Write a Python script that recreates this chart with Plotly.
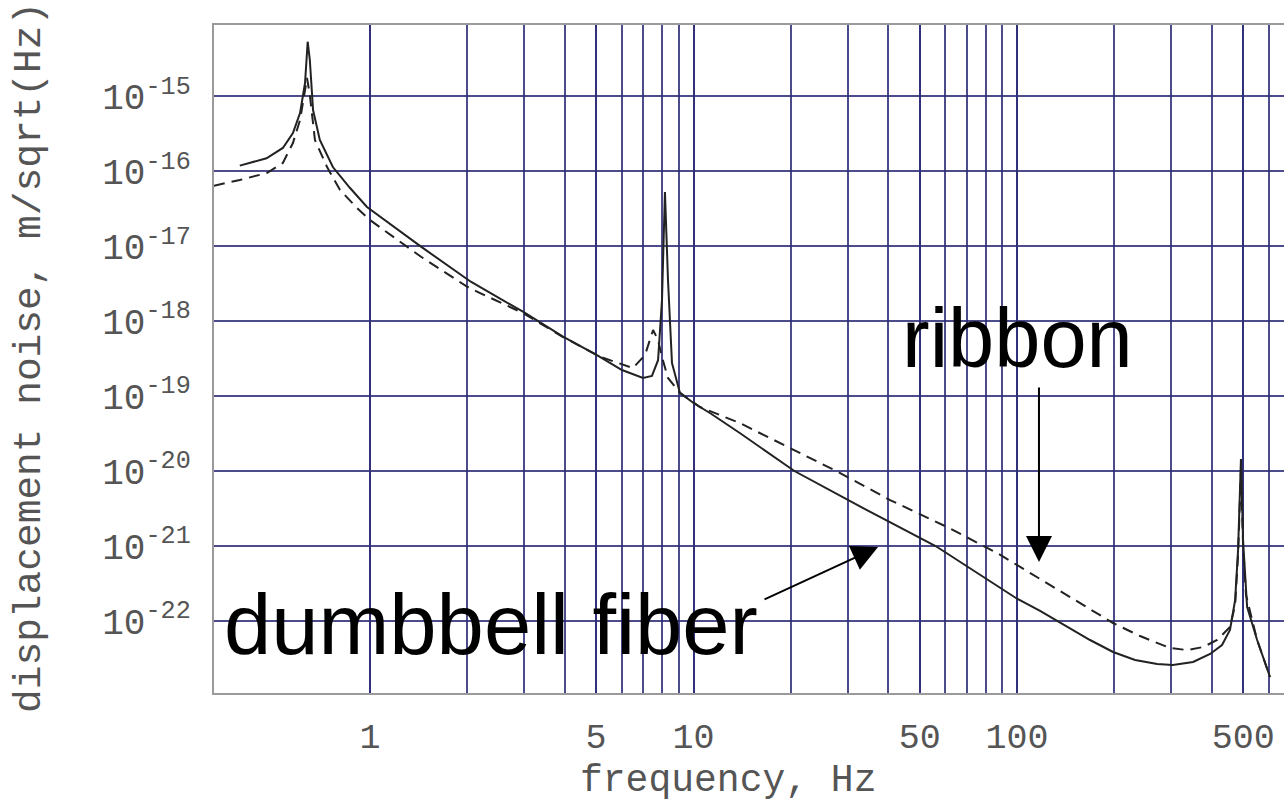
import plotly.graph_objects as go

# ---- data ----
freq_dumbbell = [0.396, 0.479, 0.538, 0.578, 0.608, 0.630, 0.642, 0.652, 0.667, 0.70,
                 0.768, 0.868, 0.979, 1.438, 2.05, 2.97, 3.95, 5.03, 6.01, 6.98,
                 7.44, 7.77, 7.99, 8.16, 8.34, 8.58, 9.08, 10.0, 11.3, 13.9,
                 20.5, 33.9, 56.0, 85.0, 100, 117.8, 138.8, 168.1, 198, 231.6,
                 271, 303, 350, 395, 430, 455, 472, 482, 492, 499.4,
                 514, 552, 605]
noise_dumbbell = [1.18e-16, 1.48e-16, 2.03e-16, 3.21e-16, 5.93e-16, 1.49e-15, 5.3e-15, 3.0e-15, 6.5e-16, 2.59e-16,
                  1.13e-16, 5.93e-17, 3.31e-17, 9.8e-18, 3.34e-18, 1.33e-18, 6.18e-19, 3.52e-19, 2.22e-19, 1.74e-19,
                  1.85e-19, 3.0e-19, 1.9e-18, 5.25e-17, 3.52e-18, 2.75e-19, 1.1e-19, 8.07e-20, 5.85e-20, 3.21e-20,
                  1.0e-20, 3.1e-21, 1.0e-21, 3.1e-22, 1.98e-22, 1.36e-22, 9.12e-23, 5.58e-23, 3.86e-23, 3.02e-23,
                  2.67e-23, 2.59e-23, 2.84e-23, 3.63e-23, 4.79e-23, 7.6e-23, 1.9e-22, 8.85e-22, 1.45e-20, 1.2e-21,
                  1.54e-22, 5.58e-23, 1.79e-23]

freq_ribbon = [0.3295, 0.396, 0.48, 0.538, 0.578, 0.608, 0.630, 0.639, 0.652, 0.676,
               0.737, 0.808, 0.912, 1.0, 1.438, 1.995, 2.19, 2.97, 3.95, 5.14,
               6.5, 7.08, 7.5, 7.77, 7.99, 8.34, 9.08, 10.47, 13.9, 19.9,
               28.4, 40.5, 60.8, 86.7, 126.5, 198, 240, 297, 335.3, 376,
               415.3, 455, 472, 482, 492, 499.4, 510, 552, 605]
noise_ribbon = [6.37e-17, 7.59e-17, 9.4e-17, 1.28e-16, 2.36e-16, 4.79e-16, 1.2e-15, 1.74e-15, 1.03e-15, 2.59e-16,
                1.13e-16, 5.58e-17, 3.21e-17, 2.22e-17, 7.2e-18, 2.87e-18, 2.36e-18, 1.28e-18, 6.12e-19, 3.34e-19,
                2.36e-19, 3.52e-19, 7.59e-19, 5.58e-19, 3.31e-19, 1.74e-19, 1.1e-19, 7.13e-20, 4.36e-20, 2.03e-20,
                9.4e-21, 4.1e-21, 1.79e-21, 8.07e-22, 3.02e-22, 9.4e-23, 6.3e-23, 4.36e-23, 4.1e-23, 4.5e-23,
                5.58e-23, 8.3e-23, 1.63e-22, 7.59e-22, 1.03e-20, 1.03e-21, 2.22e-22, 5.58e-23, 1.79e-23]

x_ticks = [1, 5, 10, 50, 100, 500]
x_labels = ["1", "5", "10", "50", "100", "500"]
x_grid = [1, 2, 3, 4, 5, 6, 7, 8, 9, 10, 20, 30, 40, 50, 60, 70, 80, 90, 100, 200, 300, 400, 500, 600, 700]
y_ticks = [1e-15, 1e-16, 1e-17, 1e-18, 1e-19, 1e-20, 1e-21, 1e-22]
y_labels = ["10<sup>-15</sup>", "10<sup>-16</sup>", "10<sup>-17</sup>", "10<sup>-18</sup>",
            "10<sup>-19</sup>", "10<sup>-20</sup>", "10<sup>-21</sup>", "10<sup>-22</sup>"]

MONO = "Liberation Mono, Courier New, monospace"
SANS = "Liberation Sans, Arial, sans-serif"
GRID = "rgba(45,45,120,0.85)"

fig = go.Figure()
fig.add_trace(go.Scatter(x=freq_ribbon, y=noise_ribbon, mode="lines",
                         line=dict(color="#222222", width=2, dash="11px,7px"),
                         name="ribbon", showlegend=False))
fig.add_trace(go.Scatter(x=freq_dumbbell, y=noise_dumbbell, mode="lines",
                         line=dict(color="#222222", width=2),
                         name="dumbbell fiber", showlegend=False))

fig.update_layout(
    width=1284, height=801,
    margin=dict(l=214, r=0, t=25, b=108),
    paper_bgcolor="white", plot_bgcolor="white",
    showlegend=False,
    xaxis=dict(type="log", range=[-0.482, 2.825],
               tickmode="array", tickvals=x_ticks, ticktext=x_labels,
               showgrid=True, gridcolor=GRID, gridwidth=1.5,
               minor=dict(tickmode="array", tickvals=x_grid, showgrid=True,
                          gridcolor=GRID, gridwidth=1.5, ticks=""),
               showline=True, linecolor="#9a9a9a", linewidth=2, mirror=True,
               ticks="", ticklabelstandoff=11,
               tickfont=dict(family=MONO, size=35, color="#555555"),
               zeroline=False),
    yaxis=dict(type="log", range=[-22.96, -14.053],
               tickmode="array", tickvals=y_ticks, ticktext=y_labels,
               showgrid=True, gridcolor=GRID, gridwidth=1.5,
               showline=True, linecolor="#9a9a9a", linewidth=2, mirror=False,
               ticks="", ticklabelstandoff=14,
               tickfont=dict(family=MONO, size=36, color="#555555"),
               zeroline=False),
)

annotations = [
    dict(text="frequency, Hz", x=0.4804, y=-0.131, xref="paper", yref="paper",
         showarrow=False, xanchor="center", yanchor="middle",
         font=dict(family=MONO, size=38, color="#555555")),
    dict(text="displacement noise, m/sqrt(Hz)", x=-0.172, y=0.503, xref="paper", yref="paper",
         showarrow=False, xanchor="center", yanchor="middle", textangle=-90,
         font=dict(family=MONO, size=39.5, color="#555555")),
    dict(text="ribbon", x=0.7514, y=0.5314, xref="paper", yref="paper",
         showarrow=False, xanchor="center", yanchor="middle",
         font=dict(family=SANS, size=83, color="black")),
    dict(text="dumbbell fiber", x=0.2589, y=0.1018, xref="paper", yref="paper",
         showarrow=False, xanchor="center", yanchor="middle",
         font=dict(family=SANS, size=85, color="black")),
    dict(text="", x=0.7710, y=0.1961, xref="paper", yref="paper",
         showarrow=True, ax=0, ay=-176, arrowhead=2, arrowsize=2.6, arrowwidth=2,
         arrowcolor="black"),
    dict(text="", x=0.6206, y=0.2186, xref="paper", yref="paper",
         showarrow=True, ax=-115, ay=53, arrowhead=2, arrowsize=2.6, arrowwidth=2,
         arrowcolor="black"),
]
fig.update_layout(annotations=annotations)

fig.write_html("out.html")
